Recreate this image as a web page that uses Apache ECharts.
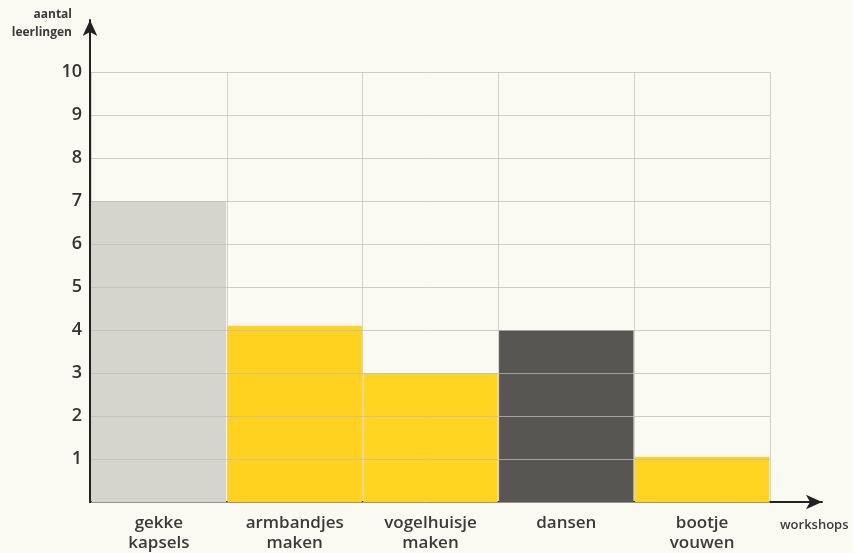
<!DOCTYPE html>
<html><head><meta charset="utf-8">
<script src="https://cdn.jsdelivr.net/npm/echarts@6/dist/echarts.min.js"></script>
<style>html,body{margin:0;padding:0;background:#fbfaf2;}#c{width:853px;height:553px;}</style>
</head><body><div id="c"></div>
<script>
const categories = ['gekke\nkapsels', 'armbandjes\nmaken', 'vogelhuisje\nmaken', 'dansen', 'bootje\nvouwen'];
const values = [7, 4.1, 3, 4, 1.05];
const barColors = ['#d5d5cd', '#ffd21f', '#ffd522', '#575652', '#ffd420'];
const yTicks = [1, 2, 3, 4, 5, 6, 7, 8, 9, 10];
const yMax = 10;

const font = '"Open Sans", "DejaVu Sans", sans-serif';
const chart = echarts.init(document.getElementById('c'));
chart.setOption({
  backgroundColor: '#fbfaf2',
  animation: false,
  grid: [
    { left: 91, right: 83, top: 72, bottom: 51 },
    { left: 90, right: 31, top: 20, bottom: 51 }
  ],
  xAxis: [
    {
      gridIndex: 0, type: 'category', data: categories,
      axisLine: { show: false }, axisTick: { show: false },
      axisLabel: { color: '#3a3a3a', fontFamily: font, fontWeight: 600, fontSize: 17, lineHeight: 20, margin: 11 },
      splitLine: { show: true, lineStyle: { color: '#d4d4cc', width: 1 } }
    },
    {
      gridIndex: 1, type: 'value', min: 0, max: 1,
      axisLine: { show: true, symbol: ['none', 'arrow'], symbolSize: [11, 16], lineStyle: { color: '#222', width: 2 } },
      axisTick: { show: false }, axisLabel: { show: false }, splitLine: { show: false },
      name: 'workshops', nameLocation: 'end', nameGap: -42,
      nameTextStyle: { color: '#3a3a3a', fontFamily: font, fontWeight: 600, fontSize: 13, verticalAlign: 'top', align: 'left', padding: [17, 0, 0, 0] }
    }
  ],
  yAxis: [
    {
      gridIndex: 0, type: 'value', min: 0, max: yMax, interval: 1, z: 5,
      axisLine: { show: false }, axisTick: { show: false },
      axisLabel: { color: '#333', fontFamily: font, fontWeight: 600, fontSize: 18, margin: 9,
        formatter: v => yTicks.includes(v) ? String(v) : '' },
      splitLine: { show: true, lineStyle: { color: 'rgba(190,190,180,0.75)', width: 1 } }
    },
    {
      gridIndex: 1, type: 'value', min: 0, max: 1,
      axisLine: { show: true, symbol: ['none', 'arrow'], symbolSize: [11, 16], lineStyle: { color: '#222', width: 2 } },
      axisTick: { show: false }, axisLabel: { show: false }, splitLine: { show: false },
      name: 'aantal\nleerlingen', nameLocation: 'end', nameGap: 0,
      nameTextStyle: { color: '#3a3a3a', fontFamily: font, fontWeight: 700, fontSize: 12, lineHeight: 18, align: 'right', verticalAlign: 'top', padding: [-14, 18, 0, 0] }
    }
  ],
  series: [{
    type: 'bar', xAxisIndex: 0, yAxisIndex: 0,
    barCategoryGap: '1%',
    data: values.map((v, i) => ({ value: v, itemStyle: { color: barColors[i] } })),
    z: 2
  }]
});
</script></body></html>
